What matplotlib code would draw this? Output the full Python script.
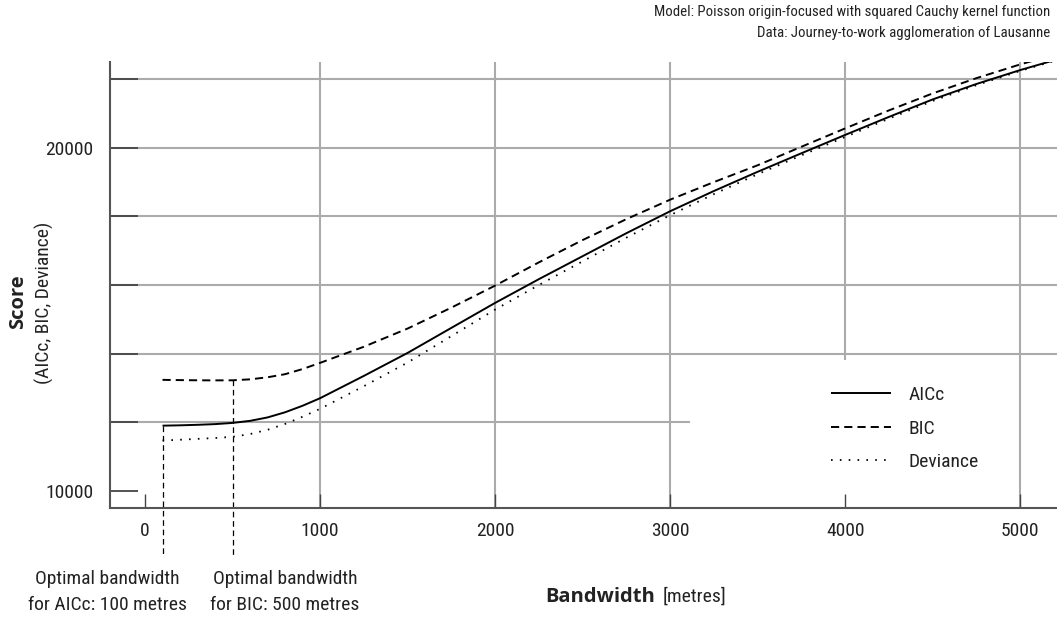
import matplotlib
matplotlib.use("Agg")
import matplotlib.pyplot as plt
from matplotlib import font_manager

# ---------------- data ----------------
bandwidth = [100, 200, 300, 400, 500, 600, 700, 800, 900, 1000, 1250, 1500, 1750,
             2000, 2250, 2500, 2750, 3000, 3250, 3500, 3750, 4000, 4250, 4500,
             4750, 5000, 5200]
aicc = [11900, 11910, 11925, 11945, 11980, 12040, 12140, 12290, 12480, 12700, 13350,
        14020, 14750, 15478, 16170, 16840, 17510, 18150, 18740, 19300, 19840, 20375,
        20900, 21410, 21860, 22265, 22560]
bic = [13235, 13228, 13222, 13220, 13222, 13250, 13310, 13400, 13550, 13730, 14200,
       14730, 15340, 15982, 16660, 17310, 17920, 18487, 19000, 19490, 20030, 20565,
       21090, 21585, 22030, 22430, 22720]
deviance = [11467, 11490, 11515, 11540, 11575, 11655, 11780, 11950, 12160, 12390,
            13050, 13740, 14510, 15283, 16000, 16690, 17380, 18035, 18650, 19230,
            19780, 20315, 20850, 21365, 21825, 22240, 22540]
series_names = ["AICc", "BIC", "Deviance"]
x_ticks = [0, 1000, 2000, 3000, 4000, 5000]
y_ticks = [10000, 12000, 14000, 16000, 18000, 20000, 22000]
y_tick_labels = ["10000", "", "", "", "", "20000", ""]
opt_aicc = 100
opt_bic = 500
header = ["Model: Poisson origin-focused with squared Cauchy kernel function",
          "Data: Journey-to-work agglomeration of Lausanne"]
note_aicc = "Optimal bandwidth\nfor AICc: 100 metres"
note_bic = "Optimal bandwidth\nfor BIC: 500 metres"

# ---------------- fonts ----------------
avail = {f.name for f in font_manager.fontManager.ttflist}
fam = "DejaVu Sans"
for cand in ["Roboto Condensed", "Liberation Sans Narrow", "Open Sans Condensed",
             "Noto Sans Condensed", "DejaVu Sans Condensed"]:
    if cand in avail:
        fam = cand
        break
bold_fam = "Open Sans" if "Open Sans" in avail else fam
plt.rcParams["font.family"] = [fam, "DejaVu Sans"]

TXT = "#222222"
GRID = "#ababab"
SPINE = "#555555"

W, H = 1057, 621
fig = plt.figure(figsize=(W / 100, H / 100), dpi=100)
ax = fig.add_axes([110 / W, 1 - 508 / H, (W - 110) / W, (508 - 62) / H])
ax.set_xlim(-200, 5210)
ax.set_ylim(9500, 22500)

# custom grid
for yv in y_ticks[2:]:
    ax.axhline(yv, color=GRID, lw=1.5, zorder=1)
ax.plot([ax.get_xlim()[0], 3110], [12000, 12000], color=GRID, lw=1.5, zorder=1, clip_on=False)
for xv in x_ticks[1:]:
    if xv == 4000:
        ax.plot([xv, xv], [13850, 22500], color=GRID, lw=1.5, zorder=1)
    else:
        ax.axvline(xv, color=GRID, lw=1.5, zorder=1)

# curves
l1, = ax.plot(bandwidth, aicc, color="black", lw=1.4, zorder=3, label=series_names[0],
              solid_capstyle="butt")
l2, = ax.plot(bandwidth, bic, color="black", lw=1.4, zorder=3, dashes=(4.2, 2.6),
              label=series_names[1])
l3, = ax.plot(bandwidth, deviance, color="black", lw=1.3, zorder=3, dashes=(0.9, 4.0),
              label=series_names[2])

# optimal bandwidth markers
y0, y1 = ax.get_ylim()
ybot = y0 - 0.1076 * (y1 - y0)
ax.plot([opt_aicc, opt_aicc], [aicc[bandwidth.index(opt_aicc)], ybot], color="black",
        lw=0.9, dashes=(4.5, 3), clip_on=False, zorder=2)
ax.plot([opt_bic, opt_bic], [bic[bandwidth.index(opt_bic)], ybot], color="black",
        lw=0.9, dashes=(4.5, 3), clip_on=False, zorder=2)

# spines & ticks
for s in ["top", "right"]:
    ax.spines[s].set_visible(False)
for s in ["left", "bottom"]:
    ax.spines[s].set_color(SPINE)
    ax.spines[s].set_linewidth(1.5)
ax.set_xticks(x_ticks)
ax.set_xticklabels([str(v) for v in x_ticks])
ax.set_yticks(y_ticks)
ax.set_yticklabels(y_tick_labels)
ax.tick_params(axis="x", direction="in", length=10, width=1.0, color="#444444",
               labelsize=14, labelcolor=TXT, pad=10)
ax.tick_params(axis="y", direction="in", length=20, width=1.3, color="#444444",
               labelsize=14, labelcolor=TXT, pad=12)

# axis labels
fig.text(18 / W, 1 - 302 / H, "Score", rotation=90, ha="center", va="center",
         fontsize=14.5, fontweight="bold", color=TXT, family=[bold_fam, "DejaVu Sans"])
fig.text(44 / W, 1 - 303 / H, "(AICc, BIC, Deviance)", rotation=90, ha="center",
         va="center", fontsize=14, color=TXT)
t = fig.text(545 / W, 1 - 597 / H, "Bandwidth", ha="left", va="center", fontsize=14.5,
             fontweight="bold", color=TXT, family=[bold_fam, "DejaVu Sans"])
fig.canvas.draw()
bb = t.get_window_extent()
fig.text((bb.x1 + 8) / W, 1 - 597 / H, "[metres]", ha="left", va="center",
         fontsize=14, color=TXT)

# notes
fig.text(107 / W, 1 - 570 / H, note_aicc, ha="center", va="top", multialignment="center",
         fontsize=14, color=TXT, linespacing=1.58)
fig.text(285 / W, 1 - 570 / H, note_bic, ha="center", va="top", multialignment="center",
         fontsize=14, color=TXT, linespacing=1.58)

# header
fig.text(1050 / W, 1 - 12 / H, header[0], ha="right", va="center", fontsize=10.7, color=TXT)
fig.text(1050 / W, 1 - 33 / H, header[1], ha="right", va="center", fontsize=10.7, color=TXT)

# legend
leg = ax.legend(handles=[l1, l2, l3], loc="upper left",
                bbox_to_anchor=(831 / W, 1 - 386 / H), bbox_transform=fig.transFigure,
                frameon=False, fontsize=14, handlelength=3.1, handletextpad=0.9,
                labelspacing=0.8, borderpad=0, borderaxespad=0)
for tx in leg.get_texts():
    tx.set_color(TXT)

fig.savefig("out.png", dpi=100)
